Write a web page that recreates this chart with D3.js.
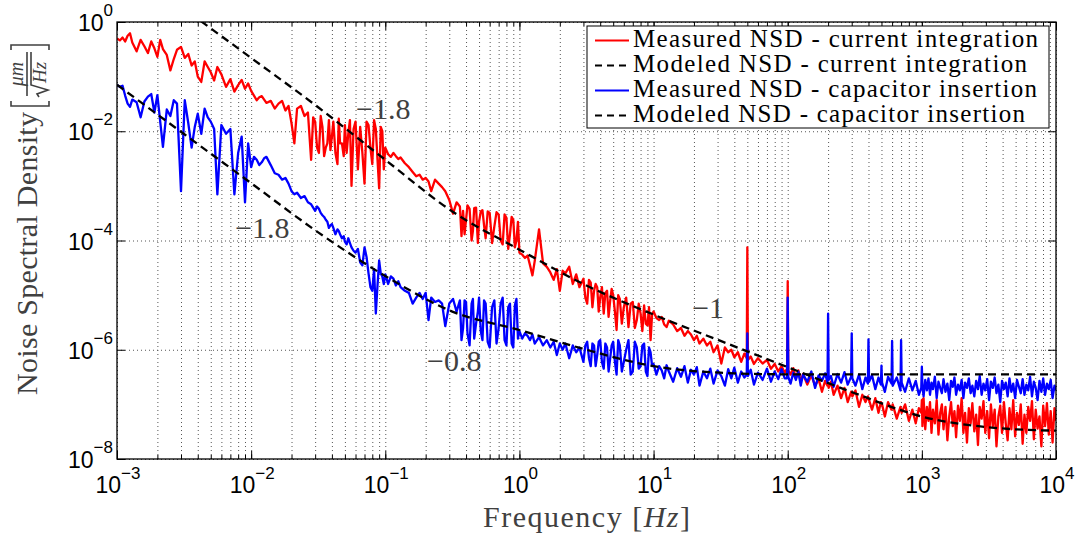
<!DOCTYPE html>
<html>
<head>
<meta charset="utf-8">
<script src="https://d3js.org/d3.v7.min.js"></script>
<style>
  body { margin: 0; background: #fff; }
  .tick-label { font-family: "Liberation Sans", Arial, sans-serif; font-size: 23px; fill: #000; }
  .axis-title { font-family: "Liberation Serif", "Times New Roman", serif; font-size: 30px; fill: #404040; }
  .slope { font-family: "Liberation Serif", "Times New Roman", serif; font-size: 30px; fill: #404040; }
  .legend text { font-family: "Liberation Serif", "Times New Roman", serif; font-size: 25px; fill: #000; }
  .grid line { stroke: #555; stroke-width: 1; stroke-dasharray: 1,3; }
  .ticks line { stroke: #000; stroke-width: 1; }
</style>
</head>
<body>
<script>
// ---- data ----
// frequency grid [Hz], one array per decade
var freqD1 = [1e-3,1.05e-3,1.1e-3,1.15e-3,1.2e-3,1.25e-3,1.3e-3,1.4e-3,1.5e-3,1.6e-3,1.7e-3,1.8e-3,1.9e-3,2e-3,2.1e-3,2.2e-3,2.35e-3,2.5e-3,2.65e-3,2.8e-3,3e-3,3.2e-3,3.4e-3,3.6e-3,3.8e-3,4e-3,4.25e-3,4.5e-3,4.75e-3,5e-3,5.3e-3,5.6e-3,6e-3,6.5e-3,7e-3,7.5e-3,8e-3,8.5e-3,9e-3,9.5e-3];
var freqD2 = [1e-2,1.05e-2,1.1e-2,1.15e-2,1.2e-2,1.25e-2,1.3e-2,1.4e-2,1.5e-2,1.6e-2,1.7e-2,1.8e-2,1.9e-2,2e-2,2.1e-2,2.2e-2,2.35e-2,2.5e-2,2.65e-2,2.8e-2,3e-2,3.2e-2,3.4e-2,3.6e-2,3.8e-2,4e-2,4.25e-2,4.5e-2,4.75e-2,5e-2,5.3e-2,5.6e-2,6e-2,6.5e-2,7e-2,7.5e-2,8e-2,8.5e-2,9e-2,9.5e-2];
var freqD3 = [1e-1,1.05e-1,1.1e-1,1.15e-1,1.2e-1,1.25e-1,1.3e-1,1.4e-1,1.5e-1,1.6e-1,1.7e-1,1.8e-1,1.9e-1,2e-1,2.1e-1,2.2e-1,2.35e-1,2.5e-1,2.65e-1,2.8e-1,3e-1,3.2e-1,3.4e-1,3.6e-1,3.8e-1,4e-1,4.25e-1,4.5e-1,4.75e-1,5e-1,5.3e-1,5.6e-1,6e-1,6.5e-1,7e-1,7.5e-1,8e-1,8.5e-1,9e-1,9.5e-1];
var freqD4 = [1,1.05,1.1,1.15,1.2,1.25,1.3,1.4,1.5,1.6,1.7,1.8,1.9,2,2.1,2.2,2.35,2.5,2.65,2.8,3,3.2,3.4,3.6,3.8,4,4.25,4.5,4.75,5,5.3,5.6,6,6.5,7,7.5,8,8.5,9,9.5];
var freqD5 = [10,10.5,11,11.5,12,12.5,13,14,15,16,17,18,19,20,21,22,23.5,25,26.5,28,30,32,34,36,38,40,42.5,45,47.5,49.5,50,50.5,53,56,60,65,70,75,80,85,90,95];
var freqD6 = [99,100,101,105,110,115,120,125,130,140,150,160,170,180,190,198,200,202,210,220,235,250,265,280,297,300,303,320,340,360,380,396,400,404,425,450,475,495,500,505,530,560,594,600,606,650,693,700,707,750,800,850,900,950,990];
var freqD7 = [1e3,1.01e3,1.03e3,1.06e3,1.09e3,1.12e3,1.15e3,1.18e3,1.21e3,1.25e3,1.29e3,1.33e3,1.37e3,1.41e3,1.45e3,1.5e3,1.55e3,1.6e3,1.65e3,1.7e3,1.75e3,1.8e3,1.86e3,1.92e3,1.98e3,2.04e3,2.1e3,2.17e3,2.24e3,2.31e3,2.38e3,2.46e3,2.54e3,2.62e3,2.7e3,2.79e3,2.88e3,2.97e3,3.07e3,3.17e3,3.27e3,3.38e3,3.49e3,3.6e3,3.72e3,3.84e3,3.96e3,4.09e3,4.22e3,4.36e3,4.5e3,4.65e3,4.8e3,4.96e3,5.12e3,5.29e3,5.46e3,5.64e3,5.82e3,6.01e3,6.21e3,6.41e3,6.62e3,6.84e3,7.06e3,7.29e3,7.53e3,7.78e3,8.03e3,8.29e3,8.56e3,8.84e3,9.13e3,9.43e3,9.74e3,1e4];
// extra points where the spectrum is densest
var freqExtra = [0.029,0.031,0.033,0.035,0.037,0.039,0.041,0.044,0.046,0.049,0.0515,0.0545,0.058,0.0625,0.0675,0.0725,0.0775,0.0825,0.0875,0.0925,0.0975,
                 0.37,0.39,0.41,0.44,0.46,0.49,0.515,0.545,0.58,0.625,0.675,0.725,0.775,0.825,0.875,0.925,0.975,
                 3.1,3.3,3.5,3.7,3.9,4.12,4.37,4.62,4.87,5.15,5.45,5.8,6.25,6.75,7.25,7.75,8.25,8.75,9.25,9.75];

// measured NSD - current integration (red)
var currentD1 = [5e-1,4.6e-1,5.2e-1,4.4e-1,5.6e-1,6.2e-1,4.2e-1,2.9e-1,4.7e-1,3.6e-1,2.7e-1,4.4e-1,3.3e-1,2.3e-1,4.7e-1,3.2e-1,2.5e-1,1.3e-1,2.1e-1,3.1e-1,3.5e-1,2.2e-1,2.6e-1,1.6e-1,1.9e-1,1e-1,8e-2,1.9e-1,1.5e-1,1.2e-1,8.5e-2,1.5e-1,1.1e-1,6.5e-2,9e-2,5.3e-2,7e-2,8.7e-2,6e-2,7.5e-2];
var currentD2 = [5.5e-2,4.5e-2,3.7e-2,4.2e-2,4.4e-2,3.8e-2,3.3e-2,3.6e-2,2.6e-2,3.2e-2,3.6e-2,2.4e-2,2.9e-2,1.4e-2,6e-3,2.6e-2,2.9e-2,1.9e-2,2.2e-2,3e-3,1.5e-2,4e-3,1.2e-2,5e-3,1.6e-2,8e-3,4e-3,1.7e-2,6e-3,1.3e-2,9e-3,1e-3,1.5e-2,1.2e-2,1.1e-3,1.3e-2,2.5e-3,1.1e-2,9e-4,1e-2];
var currentD3 = [5e-3,3.8e-3,3.4e-3,4e-3,3.5e-3,3.1e-3,3.3e-3,2.6e-3,2.2e-3,1.8e-3,1.5e-3,1.6e-3,1.3e-3,1.4e-3,1.2e-3,8e-4,1.3e-3,1.1e-3,9.5e-4,8e-4,5.5e-4,3.1e-4,5e-4,4.2e-4,3.5e-4,2.4e-4,3.8e-4,1.5e-4,4e-4,2.2e-4,3.6e-4,1.1e-4,3.2e-4,1.8e-4,3e-4,8.5e-5,2.6e-4,1.3e-4,2.4e-4,1e-4];
var currentD4 = [6e-5,5.5e-5,4.8e-5,5.3e-5,3.5e-5,2.3e-5,4.2e-5,1.6e-4,3.8e-5,3.3e-5,2.6e-5,1.9e-5,3e-5,1.2e-5,2.8e-5,2.5e-5,3.3e-5,1.6e-5,2.4e-5,1.4e-5,2e-5,7e-6,1.7e-5,1.2e-5,1.4e-5,9e-6,4.6e-6,1.2e-5,8e-6,1e-5,2.3e-6,8.5e-6,6e-6,2.6e-6,7.5e-6,3.5e-6,4.6e-6,6.5e-6,2.8e-6,1.5e-6];
var currentD5 = [5e-6,3.8e-6,3.5e-6,4e-6,2.9e-6,2.6e-6,3.4e-6,2.9e-6,2.2e-6,2.5e-6,1.8e-6,2.2e-6,1.9e-6,1.5e-6,1.8e-6,1.3e-6,1.6e-6,1.2e-6,1.4e-6,9e-7,1.2e-6,5.6e-7,1.1e-6,9e-7,1e-6,7.3e-7,9e-7,6e-7,8.5e-7,7e-7,7.5e-5,6.5e-7,7.5e-7,5.5e-7,7e-7,5.6e-7,6.5e-7,4.5e-7,5.5e-7,4e-7,5e-7,3.8e-7];
var currentD6 = [4.5e-7,1.8e-5,4.2e-7,3.5e-7,4.6e-7,3e-7,4.2e-7,2.6e-7,3.6e-7,2.3e-7,3.4e-7,2.2e-7,2.9e-7,1.7e-7,2.7e-7,2.2e-7,2.4e-7,2e-7,2.6e-7,1.5e-7,2.2e-7,1.3e-7,2e-7,1.1e-7,1.7e-7,1.6e-7,1.4e-7,1.8e-7,9e-8,1.5e-7,1.1e-7,1.4e-7,1.3e-7,1.2e-7,8e-8,1.3e-7,7e-8,1.1e-7,1e-7,1e-7,6e-8,1.1e-7,8e-8,9e-8,1e-7,5.5e-8,9e-8,8e-8,7e-8,1e-7,5e-8,8e-8,4.5e-8,8.5e-8,7e-8];
var currentD7 = [1.2e-7,4e-8,1.3e-7,3.5e-8,9e-8,5e-8,1.1e-7,3e-8,8e-8,4.5e-8,1.2e-7,2.8e-8,7e-8,1e-7,3.5e-8,9e-8,2.2e-8,6e-8,1.1e-7,4e-8,7.5e-8,2.5e-8,9.5e-8,5e-8,1.3e-7,3e-8,7e-8,2e-8,8.5e-8,4.5e-8,1.05e-7,3.2e-8,6.5e-8,1.8e-8,9e-8,5.5e-8,1.15e-7,3e-8,7.5e-8,2.4e-8,1e-7,4e-8,8e-8,1.7e-8,6e-8,9.5e-8,3e-8,1.1e-7,4.5e-8,2.2e-8,8.5e-8,3.5e-8,1.2e-7,2.6e-8,7e-8,4.2e-8,1e-7,1.9e-8,6.5e-8,3e-8,9e-8,5e-8,1.15e-7,2.3e-8,8e-8,3.6e-8,6e-8,1.7e-8,9.5e-8,4e-8,1.05e-7,2.8e-8,7.5e-8,2e-8,8.5e-8,5e-8];
var currentExtra = [1.8e-2,5e-3,1.9e-2,3.5e-3,6e-3,4.5e-3,1.5e-2,2.5e-3,6e-3,3.5e-3,4e-3,1.6e-2,1.1e-2,2e-3,4e-3,1.5e-2,5e-3,1.6e-2,3e-3,1.2e-2,2e-3,
                    1.2e-4,1.3e-4,4.4e-4,1e-4,3.9e-4,9e-5,3.4e-4,1.9e-4,3.4e-4,9e-5,3.3e-4,1e-4,3e-4,7e-5,2.7e-4,7.5e-5,2.2e-4,
                    9e-6,1.9e-5,6e-6,1.6e-5,5e-6,1.4e-5,1.1e-5,4e-6,1.3e-5,5e-6,1e-5,3e-6,9e-6,7e-6,2.5e-6,7e-6,2.2e-6,3e-6,6e-6,4.5e-6];

// measured NSD - capacitor insertion (blue)
var capacitorD1 = [7e-2,6.5e-2,6.8e-2,4.5e-2,3.2e-2,2.8e-2,3.8e-2,3.4e-2,1.8e-2,3.5e-2,4.3e-2,4.8e-2,2.2e-2,4.6e-2,1.5e-2,5.2e-3,2.5e-2,1.9e-2,3.7e-2,3.2e-2,8e-4,3.7e-2,1.4e-2,5e-3,1.2e-2,2.1e-2,9e-3,2.6e-2,1.8e-2,1.5e-2,1.1e-2,7e-4,1.3e-2,9e-3,1.1e-2,7e-4,4e-3,8e-3,5e-4,6e-3];
var capacitorD2 = [2.2e-3,3.4e-3,3e-3,2.4e-3,2.7e-3,3.2e-3,3.4e-3,2.4e-3,1.7e-3,1.6e-3,1.3e-3,1.4e-3,1.1e-3,8e-4,7e-4,7.5e-4,6e-4,6.5e-4,5e-4,4.6e-4,3.5e-4,3.8e-4,2.9e-4,2.4e-4,1.7e-4,2e-4,1.3e-4,1.5e-4,1.1e-4,9.5e-5,1.1e-4,7.5e-5,6e-5,4e-5,7.5e-5,2.5e-5,1.2e-5,4.6e-6,4.3e-5,2.2e-5];
var capacitorD3 = [2.4e-5,1.6e-5,2.2e-5,2e-5,1.5e-5,1.8e-5,1.4e-5,1.2e-5,1.1e-5,7e-6,9e-6,1.1e-5,8.5e-6,1.1e-5,3.5e-6,9e-6,7.5e-6,8e-6,7e-6,2.7e-6,7e-6,8.5e-6,5e-6,8e-6,2.5e-6,7.5e-6,1.2e-6,8.5e-6,3e-6,9e-6,1.5e-6,7e-6,1.1e-6,8e-6,2.5e-6,9e-6,1.2e-6,7e-6,1.1e-6,8.5e-6];
var capacitorD4 = [2.2e-6,1.6e-6,2e-6,1.8e-6,1.5e-6,1.9e-6,1.3e-6,1.7e-6,1.2e-6,1.5e-6,1.1e-6,1.4e-6,8e-7,1.3e-6,1e-6,1.3e-6,7e-7,1.2e-6,9e-7,1.1e-6,6e-7,1.4e-6,5e-7,1.2e-6,8e-7,1.5e-6,4.5e-7,1.1e-6,7e-7,1.4e-6,3.5e-7,1.2e-6,6e-7,1.5e-6,4e-7,1.1e-6,5e-7,1.3e-6,3.3e-7,9e-7];
var capacitorD5 = [5.5e-7,3.5e-7,5e-7,4.2e-7,3e-7,5.2e-7,4e-7,2.6e-7,4.6e-7,3.2e-7,5e-7,2.5e-7,4.3e-7,3.5e-7,4.8e-7,2.2e-7,4e-7,3e-7,4.5e-7,2.4e-7,4.2e-7,3.3e-7,2.2e-7,4.4e-7,3e-7,4.7e-7,2.5e-7,4e-7,3.1e-7,3.5e-7,2e-6,3.3e-7,4.3e-7,2.3e-7,3.8e-7,2.8e-7,4.5e-7,2.6e-7,4e-7,2.9e-7,4.4e-7,3e-7];
var capacitorD6 = [3e-7,9e-6,3.2e-7,2.4e-7,3.8e-7,2.8e-7,4e-7,2.2e-7,3.5e-7,2.6e-7,4e-7,2e-7,3.4e-7,2.7e-7,3.7e-7,2.5e-7,4.6e-6,2.8e-7,3.3e-7,2.1e-7,3.6e-7,2.5e-7,3.9e-7,2.3e-7,3.2e-7,2e-6,3e-7,2.2e-7,3.5e-7,1.9e-7,3.1e-7,2.4e-7,1.55e-6,2.6e-7,3.4e-7,1.9e-7,3.1e-7,2.3e-7,5.1e-7,2.5e-7,1.7e-7,3.2e-7,2.4e-7,1.45e-6,2.2e-7,3.1e-7,1.8e-7,1.5e-6,2.5e-7,1.7e-7,3e-7,1.8e-7,2.7e-7,1.5e-7,2e-7];
var capacitorD7 = [4.9e-7,2.2e-7,1.4e-7,2.8e-7,1.8e-7,3e-7,1.5e-7,2.5e-7,1.9e-7,3.2e-7,1.3e-7,2.6e-7,2e-7,1.6e-7,2.9e-7,1.7e-7,2.4e-7,1.2e-7,2.7e-7,2.1e-7,3.1e-7,1.5e-7,2.3e-7,1.8e-7,2.8e-7,1.3e-7,2.5e-7,2e-7,3e-7,1.6e-7,2.2e-7,1.4e-7,2.7e-7,1.9e-7,3.3e-7,1.5e-7,2.4e-7,1.8e-7,2.9e-7,1.2e-7,2.6e-7,2e-7,3.1e-7,1.6e-7,2.3e-7,1.1e-7,2.7e-7,1.9e-7,2.5e-7,1.4e-7,3e-7,1.7e-7,2.4e-7,1.3e-7,2.8e-7,2.1e-7,1.6e-7,2.9e-7,1.5e-7,2.3e-7,1.8e-7,3.2e-7,1.4e-7,2.6e-7,2e-7,1.2e-7,2.7e-7,1.7e-7,3e-7,1.5e-7,2.4e-7,1.9e-7,2.8e-7,1.3e-7,2.2e-7,1.8e-7];
var capacitorExtra = [4e-4,4.2e-4,3.2e-4,2.7e-4,2.2e-4,1.9e-4,1.7e-4,1.6e-4,1.3e-4,1.2e-4,8.5e-5,9e-5,6.5e-5,7e-5,3.5e-5,5e-5,1.4e-5,3e-5,1.5e-5,2.5e-5,1.6e-5,
                      1.5e-6,8e-6,2e-6,7e-6,1.6e-6,5e-6,2.2e-6,8e-6,1.4e-6,6e-6,1.3e-6,7e-6,1.5e-6,6e-6,1.3e-6,6.5e-6,1.6e-6,
                      1.2e-6,7e-7,1.3e-6,5e-7,1.4e-6,6e-7,1.3e-6,4e-7,1.2e-6,6e-7,1.5e-6,4e-7,1e-6,3.5e-7,1.4e-6,4.5e-7,1.2e-6,4e-7,1.1e-6,5e-7];

// modeled NSD curves
var modelFreq = [1e-3,3.16e-3,1e-2,3.16e-2,1e-1,3.16e-1,1,3.16,10,31.6,100,316,1000,3160,1e4];
var currentModel = [13.8,1.74,0.22,2.75e-2,3e-3,3.4e-4,6.8e-5,1.5e-5,4.4e-6,1.45e-6,4.8e-7,1.6e-7,6e-8,3.8e-8,3.3e-8];
var capacitorModel = [7.1e-2,8.9e-3,1.12e-3,1.41e-4,2.24e-5,5e-6,2.3e-6,1e-6,5e-7,3.8e-7,3.55e-7,3.55e-7,3.55e-7,3.55e-7,3.55e-7];

// tick labels (exponents of 10)
var xTickExps = [-3,-2,-1,0,1,2,3,4];
var yTickExps = [-8,-6,-4,-2,0];

// slope annotations
var slopeText = ["\u22121.8", "\u22121.8", "\u22120.8", "\u22121"];
var slopeFreq = [0.0605, 0.0076, 0.205, 19.4];
var slopeNsd  = [0.0167, 1.1e-4, 4.1e-7, 3.8e-6];

var legendLabels = ["Measured NSD - current integration", "Modeled NSD - current integration",
                    "Measured NSD - capacitor insertion", "Modeled NSD - capacitor insertion"];
var legendColors = ["#ff0000", "#000000", "#0000ff", "#000000"];
var legendDashed = [false, true, false, true];

// ---- drawing ----
var width = 1077, height = 535;
var plotLeft = 117, plotRight = 1056, plotTop = 22, plotBottom = 459;

var freqHz = [].concat(freqD1, freqD2, freqD3, freqD4, freqD5, freqD6, freqD7, freqExtra);
var currentNsd = [].concat(currentD1, currentD2, currentD3, currentD4, currentD5, currentD6, currentD7, currentExtra);
var capacitorNsd = [].concat(capacitorD1, capacitorD2, capacitorD3, capacitorD4, capacitorD5, capacitorD6, capacitorD7, capacitorExtra);
console.log(freqHz.length, currentNsd.length, capacitorNsd.length);

// one row per frequency, sorted so the extra points slot in between
var rows = freqHz.map(function (f, i) {
    return { f: f, current: currentNsd[i], capacitor: capacitorNsd[i] };
}).sort(function (a, b) { return a.f - b.f; });

var svg = d3.select("body").append("svg")
    .attr("width", width)
    .attr("height", height);

var x = d3.scaleLog().domain([1e-3, 1e4]).range([plotLeft, plotRight]);
var y = d3.scaleLog().domain([1e-8, 1]).range([plotBottom, plotTop]);

var xAll = x.ticks();
var xMajor = xTickExps.map(function (e) { return Math.pow(10, e); });
var yMajor = yTickExps.map(function (e) { return Math.pow(10, e); });

function noDomain(g) { g.select(".domain").remove(); }

// grid
svg.append("g").attr("class", "grid")
    .attr("transform", "translate(0," + plotBottom + ")")
    .call(d3.axisBottom(x).tickValues(xAll).tickSize(-(plotBottom - plotTop)).tickFormat(""))
    .call(noDomain);
svg.append("g").attr("class", "grid")
    .attr("transform", "translate(" + plotLeft + ",0)")
    .call(d3.axisLeft(y).tickValues(yMajor).tickSize(-(plotRight - plotLeft)).tickFormat(""))
    .call(noDomain);

svg.append("clipPath").attr("id", "plot-clip")
  .append("rect").attr("x", plotLeft).attr("y", plotTop)
    .attr("width", plotRight - plotLeft).attr("height", plotBottom - plotTop);

var plot = svg.append("g").attr("clip-path", "url(#plot-clip)");

function seriesLine(key) {
    return d3.line()
        .x(function (d) { return x(d.f); })
        .y(function (d) { return y(d[key]); });
}

plot.append("path").datum(rows)
    .attr("d", seriesLine("current"))
    .attr("fill", "none").attr("stroke", "#ff0000").attr("stroke-width", 2.3)
    .attr("stroke-linejoin", "round");
plot.append("path").datum(rows)
    .attr("d", seriesLine("capacitor"))
    .attr("fill", "none").attr("stroke", "#0000ff").attr("stroke-width", 2.3)
    .attr("stroke-linejoin", "round");

var modelLine = d3.line()
    .x(function (d, i) { return x(modelFreq[i]); })
    .y(function (d) { return y(d); })
    .curve(d3.curveMonotoneX);

[currentModel, capacitorModel].forEach(function (m) {
    plot.append("path").datum(m)
        .attr("d", modelLine)
        .attr("fill", "none").attr("stroke", "#000").attr("stroke-width", 2.3)
        .attr("stroke-dasharray", "8,5");
});

// ticks on all four sides, pointing inwards
svg.append("g").attr("class", "ticks").attr("transform", "translate(0," + plotBottom + ")")
    .call(d3.axisBottom(x).tickValues(xAll).tickSize(-4).tickFormat("")).call(noDomain);
svg.append("g").attr("class", "ticks").attr("transform", "translate(0," + plotBottom + ")")
    .call(d3.axisBottom(x).tickValues(xMajor).tickSize(-8).tickFormat("")).call(noDomain);
svg.append("g").attr("class", "ticks").attr("transform", "translate(0," + plotTop + ")")
    .call(d3.axisTop(x).tickValues(xAll).tickSize(-4).tickFormat("")).call(noDomain);
svg.append("g").attr("class", "ticks").attr("transform", "translate(0," + plotTop + ")")
    .call(d3.axisTop(x).tickValues(xMajor).tickSize(-8).tickFormat("")).call(noDomain);
svg.append("g").attr("class", "ticks").attr("transform", "translate(" + plotLeft + ",0)")
    .call(d3.axisLeft(y).tickValues(yMajor).tickSize(-8).tickFormat("")).call(noDomain);
svg.append("g").attr("class", "ticks").attr("transform", "translate(" + plotRight + ",0)")
    .call(d3.axisRight(y).tickValues(yMajor).tickSize(-8).tickFormat("")).call(noDomain);

svg.append("rect")
    .attr("x", plotLeft).attr("y", plotTop)
    .attr("width", plotRight - plotLeft).attr("height", plotBottom - plotTop)
    .attr("fill", "none").attr("stroke", "#000").attr("stroke-width", 1.3);

function expText(e) { return e < 0 ? "\u2212" + (-e) : String(e); }

// x tick labels
var xl = svg.selectAll(".xlab").data(xTickExps).enter().append("text")
    .attr("class", "tick-label")
    .attr("x", function (e) { return x(Math.pow(10, e)) + 1; })
    .attr("y", 493)
    .attr("text-anchor", "middle");
xl.append("tspan").text("10");
xl.append("tspan").attr("dy", -14).style("font-size", "17px").text(function (e) { return expText(e); });

// y tick labels
var yl = svg.selectAll(".ylab").data(yTickExps).enter().append("text")
    .attr("class", "tick-label")
    .attr("x", 113)
    .attr("y", function (e) { return y(Math.pow(10, e)) + 9; })
    .attr("text-anchor", "end");
yl.append("tspan").text("10");
yl.append("tspan").attr("dy", -15).style("font-size", "17px").text(function (e) { return expText(e); });

// axis titles
var xt = svg.append("text").attr("class", "axis-title")
    .attr("x", 483).attr("y", 527).attr("textLength", 207);
xt.append("tspan").text("Frequency [");
xt.append("tspan").style("font-style", "italic").text("Hz");
xt.append("tspan").text("]");

var yt = svg.append("g").attr("transform", "translate(37,395) rotate(-90)");
yt.append("text").attr("class", "axis-title").attr("x", 0).attr("y", 0)
    .attr("textLength", 283).text("Noise Spectral Density");
var ink = { fill: "none", stroke: "#404040", "stroke-width": 1.6 };
function styled(sel) { Object.keys(ink).forEach(function (k) { sel.attr(k, ink[k]); }); return sel; }
styled(yt.append("path").attr("d", "M294,-26 H289 V12 H294"));
styled(yt.append("path").attr("d", "M345,-26 H350 V12 H345"));
styled(yt.append("line").attr("x1", 299).attr("x2", 343).attr("y1", -10).attr("y2", -10));
styled(yt.append("path").attr("d", "M298,2 L301,0 L305,11 L310,-6 H343"));
yt.append("text").attr("class", "axis-title").attr("x", 321).attr("y", -14)
    .attr("text-anchor", "middle").style("font-style", "italic").style("font-size", "20px").text("\u03bcm");
yt.append("text").attr("class", "axis-title").attr("x", 312).attr("y", 9)
    .style("font-style", "italic").style("font-size", "19px").text("Hz");

// slope annotations
svg.selectAll(".slope").data(slopeText).enter().append("text")
    .attr("class", "slope")
    .attr("x", function (d, i) { return x(slopeFreq[i]); })
    .attr("y", function (d, i) { return y(slopeNsd[i]); })
    .text(function (d) { return d; });

// legend
var lg = svg.append("g").attr("class", "legend");
lg.append("rect").attr("x", 587).attr("y", 26).attr("width", 462).attr("height", 102)
    .attr("fill", "#fff").attr("stroke", "#000").attr("stroke-width", 1);
var legendWidths = [405, 394, 404, 392];
legendLabels.forEach(function (lab, i) {
    var by = 46.5 + i * 25;
    lg.append("line").attr("x1", 595).attr("x2", 629).attr("y1", by - 6).attr("y2", by - 6)
        .attr("stroke", legendColors[i]).attr("stroke-width", 2)
        .attr("stroke-dasharray", legendDashed[i] ? "7,5" : null);
    lg.append("text").attr("x", 633).attr("y", by).attr("textLength", legendWidths[i]).text(lab);
});
</script>
</body>
</html>
